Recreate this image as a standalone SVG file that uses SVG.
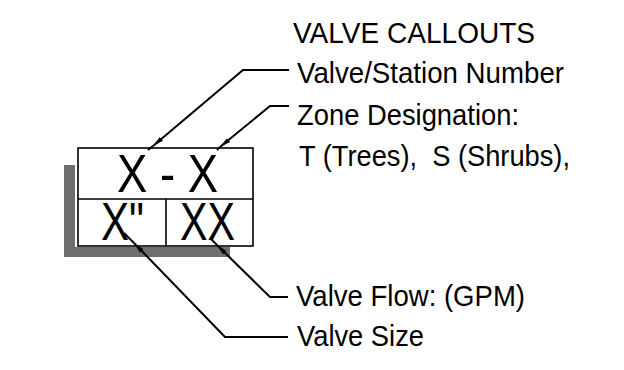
<svg xmlns="http://www.w3.org/2000/svg" width="624" height="370" viewBox="0 0 624 370">
<style>
.lbl{font-family:"Liberation Sans",Arial,sans-serif;font-size:29.5px;fill:#000}
.big{font-family:"Liberation Sans",Arial,sans-serif;font-size:54px;fill:#000}
.ln{fill:none;stroke:#000;stroke-width:2}
.box{fill:#fff;stroke:#000;stroke-width:1.6}
.shadow{fill:#6e6e6e}
</style>
<defs>
<marker id="arr" markerUnits="userSpaceOnUse" markerWidth="12" markerHeight="6" refX="11" refY="3" orient="auto">
<path d="M0,0.6 L11,3 L0,5.4 Z" fill="#000"/>
</marker>
</defs>
<rect width="624" height="370" fill="#fff"/>
<g id="callout">
<rect class="shadow" x="64" y="165" width="11" height="92"/>
<rect class="shadow" x="64" y="247" width="166" height="10"/>
<rect class="box" x="78" y="148" width="175" height="98"/>
<line class="box" x1="78" y1="199" x2="253" y2="199"/>
<line class="box" x1="166" y1="199" x2="166" y2="246"/>
<text class="big" x="117" y="192" textLength="101" lengthAdjust="spacingAndGlyphs">X - X</text>
<text class="big" x="101" y="240" textLength="43" lengthAdjust="spacingAndGlyphs">X"</text>
<text class="big" x="180" y="240" textLength="55" lengthAdjust="spacingAndGlyphs">XX</text>
</g>
<g id="title"><text class="lbl" x="293" y="43" textLength="242" lengthAdjust="spacingAndGlyphs">VALVE CALLOUTS</text></g>
<g id="station"><text class="lbl" x="297" y="83" textLength="267" lengthAdjust="spacingAndGlyphs">Valve/Station Number</text></g>
<g id="zone">
<text class="lbl" x="297" y="125" textLength="222" lengthAdjust="spacingAndGlyphs">Zone Designation:</text>
<text class="lbl" x="299" y="166" textLength="271" lengthAdjust="spacingAndGlyphs" xml:space="preserve">T (Trees),  S (Shrubs),</text>
</g>
<g id="flow"><text class="lbl" x="296" y="306" textLength="229" lengthAdjust="spacingAndGlyphs">Valve Flow: (GPM)</text></g>
<g id="size"><text class="lbl" x="297" y="346" textLength="127" lengthAdjust="spacingAndGlyphs">Valve Size</text></g>
<g id="connectors">
<path class="ln" marker-end="url(#arr)" d="M289,70 H243 L153,146"/>
<line class="ln" x1="153" y1="146" x2="148" y2="150"/>
<path class="ln" marker-end="url(#arr)" d="M289,106 H270 L220,147"/>
<line class="ln" x1="220" y1="147" x2="217" y2="150"/>
<path class="ln" marker-end="url(#arr)" d="M288,297 H270 L217,245"/>
<line class="ln" x1="217" y1="245" x2="210" y2="238"/>
<path class="ln" marker-end="url(#arr)" d="M288,337 H225 L134,243"/>
<line class="ln" x1="134" y1="243" x2="124" y2="233"/>
</g>
</svg>
